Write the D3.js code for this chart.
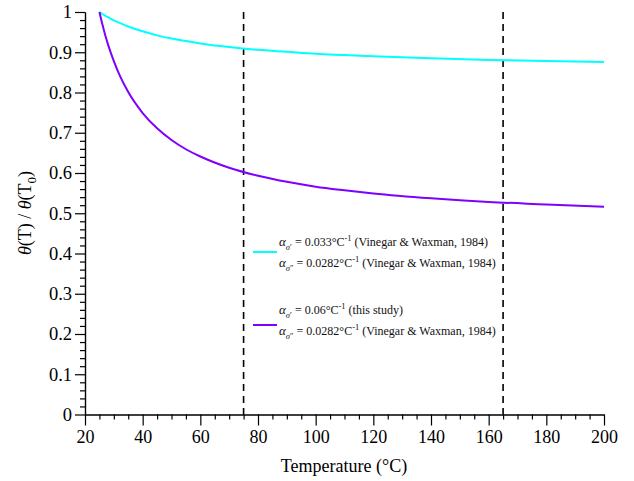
<!DOCTYPE html>
<html><head><meta charset="utf-8">
<script src="https://cdn.jsdelivr.net/npm/d3@7"></script>
<style>body{margin:0;background:#fff}svg{display:block}</style>
</head><body><svg id="c" width="634" height="481"></svg>
<script>
const temps = [25,26,27,28,30,32,35,40,45,50,55,60,70,80,90,100,110,120,140,160,180,200];
const cyanVals = [1.000,0.995,0.991,0.987,0.979,0.973,0.964,0.952,0.942,0.934,0.928,0.922,0.913,0.906,0.901,0.896,0.893,0.890,0.885,0.881,0.878,0.876];
const purpleVals = [1.000,0.970,0.943,0.919,0.878,0.843,0.801,0.749,0.711,0.682,0.659,0.641,0.613,0.593,0.578,0.566,0.557,0.549,0.537,0.528,0.522,0.516];
const dashedTemps = [75,165];
const xTicks = [20,40,60,80,100,120,140,160,180,200];
const yTicks = [0,0.1,0.2,0.3,0.4,0.5,0.6,0.7,0.8,0.9,1];

const FONT = "Liberation Serif";
const svg = d3.select("#c");
const x = d3.scaleLinear().domain([20,200]).range([85,604]);
const y = d3.scaleLinear().domain([0,1]).range([414.5,12]);

const xMinor = d3.range(20,201,5).filter(v=>v%20!==0);
const yMinor = d3.range(0,51,1).map(i=>i/50).filter((v,i)=>i%5!==0);

const gx = svg.append("g").attr("transform","translate(0,414.5)");
gx.call(d3.axisBottom(x).tickValues(xMinor).tickSize(5).tickSizeOuter(0).tickFormat(""));
gx.append("g").call(d3.axisBottom(x).tickValues(xTicks).tickSize(11).tickSizeOuter(0).tickPadding(5).tickFormat(d3.format("d")));
gx.selectAll("g").attr("font-family",FONT);
gx.selectAll("text").attr("fill","#000").attr("font-size",18).attr("font-family",FONT);
gx.selectAll("path,line").attr("stroke","#000").attr("stroke-width",1.2);

const gy = svg.append("g").attr("transform","translate(85,0)");
gy.call(d3.axisLeft(y).tickValues(yMinor).tickSize(5).tickSizeOuter(0).tickFormat(""));
gy.append("g").call(d3.axisLeft(y).tickValues(yTicks).tickSize(10).tickSizeOuter(0).tickPadding(3).tickFormat(d=>d3.format("")(+d.toFixed(1))));
gy.selectAll("g").attr("font-family",FONT);
gy.selectAll("text").attr("fill","#000").attr("font-size",18.5).attr("font-family",FONT);
gy.selectAll("path,line").attr("stroke","#000").attr("stroke-width",1.2);

svg.selectAll(".dl").data(dashedTemps).enter().append("line")
  .attr("x1",d=>x(d)).attr("x2",d=>x(d)).attr("y1",y(1)).attr("y2",y(0))
  .attr("stroke","#000").attr("stroke-width",1.6).attr("stroke-dasharray","7,5");

const line = d3.line().x((d,i)=>x(temps[i])).y(d=>y(d)).curve(d3.curveMonotoneX);
svg.append("path").datum(cyanVals).attr("d",line).attr("fill","none").attr("stroke","#00ffff").attr("stroke-width",2);
svg.append("path").datum(purpleVals).attr("d",line).attr("fill","none").attr("stroke","#8000ff").attr("stroke-width",2);

svg.append("text").attr("x",344).attr("y",472).attr("text-anchor","middle").attr("font-family",FONT).attr("font-size",18).text("Temperature (°C)");
const yt = svg.append("text").attr("transform","translate(31,213) rotate(-90)").attr("text-anchor","middle").attr("font-family",FONT).attr("font-size",18);
yt.append("tspan").attr("font-style","italic").text("θ");
yt.append("tspan").text("(T) / ");
yt.append("tspan").attr("font-style","italic").text("θ");
yt.append("tspan").text("(T");
yt.append("tspan").attr("dy",5).attr("font-size",13).text("0");
yt.append("tspan").attr("dy",-5).text(")");

const legend = [
  {color:"#00ffff", ly:252, rows:[["′","0.033","Vinegar & Waxman, 1984",246],["″","0.0282","Vinegar & Waxman, 1984",267]]},
  {color:"#8000ff", ly:325, rows:[["′","0.06","this study",314],["″","0.0282","Vinegar & Waxman, 1984",335]]}
];
legend.forEach(L=>{
  svg.append("line").attr("x1",253).attr("x2",277).attr("y1",L.ly).attr("y2",L.ly).attr("stroke",L.color).attr("stroke-width",2);
  L.rows.forEach(r=>{
    const t = svg.append("text").attr("x",279).attr("y",r[3]).attr("font-family",FONT).attr("font-size",12).attr("fill","#111");
    t.append("tspan").attr("font-style","italic").attr("font-size",13).text("α");
    t.append("tspan").attr("dy",4).attr("font-size",8.5).attr("font-style","italic").text("σ");
    t.append("tspan").attr("font-size",8.5).text(r[0]);
    t.append("tspan").attr("dy",-4).text(" = "+r[1]+"°C");
    t.append("tspan").attr("dy",-5).attr("font-size",8.5).text("-1");
    t.append("tspan").attr("dy",5).text(" ("+r[2]+")");
  });
});
</script></body></html>
